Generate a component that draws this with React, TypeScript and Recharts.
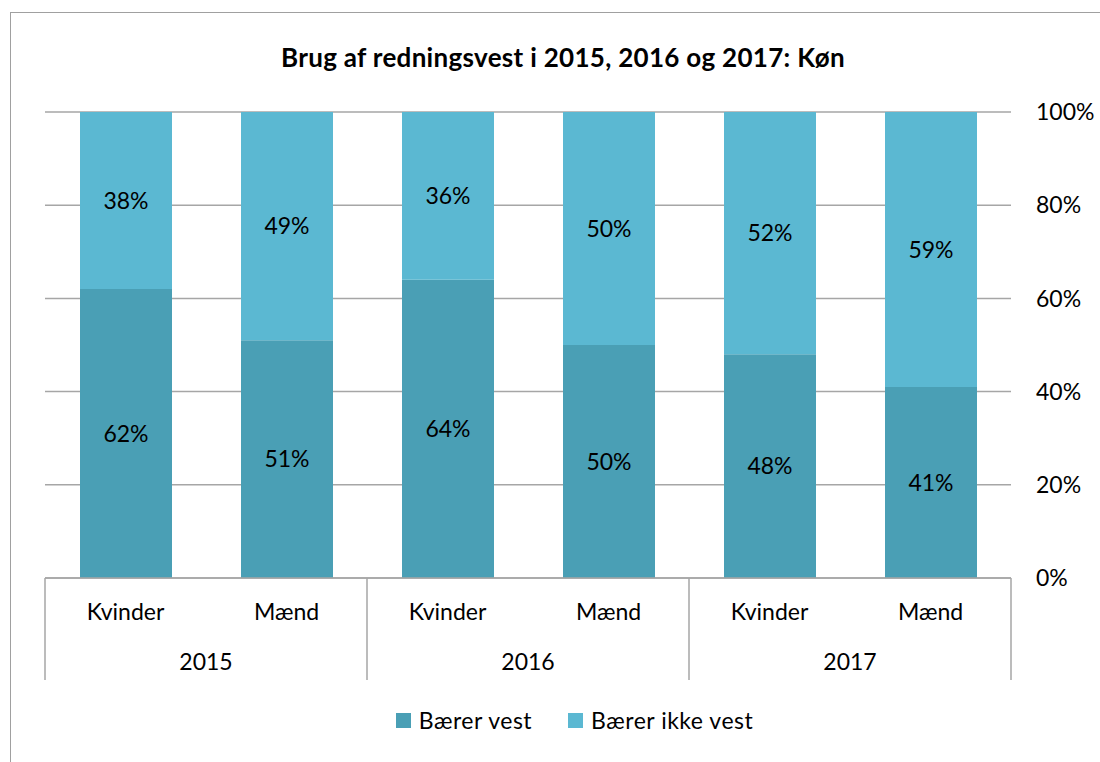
import { BarChart, Bar, XAxis, YAxis, CartesianGrid, Legend, LabelList } from 'recharts';

const genders = ['Kvinder', 'Mænd', 'Kvinder', 'Mænd', 'Kvinder', 'Mænd'];
const years = ['2015', '2015', '2016', '2016', '2017', '2017'];
const wearing = [62, 51, 64, 50, 48, 41];
const notWearing = [38, 49, 36, 50, 52, 59];
const yTicks = [0, 20, 40, 60, 80, 100];

const DARK = '#4A9FB5';
const LIGHT = '#5BB8D2';
const GRID = '#A6A6A6';
const FONT = 'Lato, "Open Sans", sans-serif';
const FS = 23;

const data = genders.map((g, i) => ({
  key: `${years[i]}-${g}`,
  gender: g,
  year: years[i],
  wear: wearing[i],
  noWear: notWearing[i],
}));

function GenderTick(props: any) {
  const { x, y, payload, index } = props;
  const half = payload.offset ?? 0;
  return (
    <g>
      <text x={x} y={y + 42} textAnchor="middle" fontSize={FS} fill="#000" fontFamily={FONT}>
        {payload.value}
      </text>
      {index % 2 === 0 && <line x1={x - half} x2={x - half} y1={y} y2={y + 50} stroke={GRID} strokeWidth={1.5} />}
      {index === data.length - 1 && <line x1={x + half} x2={x + half} y1={y} y2={y + 50} stroke={GRID} strokeWidth={1.5} />}
    </g>
  );
}

function YearTick(props: any) {
  const { x, y, payload, index } = props;
  const half = payload.offset ?? 0;
  return (
    <g>
      {index % 2 === 0 && (
        <text x={x + half} y={y + 42} textAnchor="middle" fontSize={FS} fill="#000" fontFamily={FONT}>
          {payload.value}
        </text>
      )}
      {index % 2 === 0 && <line x1={x - half} x2={x - half} y1={y} y2={y + 52} stroke={GRID} strokeWidth={1.5} />}
      {index === data.length - 1 && <line x1={x + half} x2={x + half} y1={y} y2={y + 52} stroke={GRID} strokeWidth={1.5} />}
    </g>
  );
}

function LegendContent() {
  const items = [
    { name: 'Bærer vest', color: DARK },
    { name: 'Bærer ikke vest', color: LIGHT },
  ];
  return (
    <div style={{ height: 60, paddingTop: 20, boxSizing: 'border-box', display: 'flex', justifyContent: 'center', alignItems: 'center', fontFamily: FONT, fontSize: FS, paddingLeft: 4 }}>
      {items.map(it => (
        <div key={it.name} style={{ display: 'flex', alignItems: 'center', margin: '0 18px', height: 40 }}>
          <span style={{ width: 15, height: 15, background: it.color, marginRight: 8, display: 'inline-block' }} />
          <span style={{ letterSpacing: 0.5 }}>{it.name}</span>
        </div>
      ))}
    </div>
  );
}

export default function App() {
  return (
    <div style={{ position: 'absolute', left: 0, top: 0, width: 1100, height: 762, overflow: 'hidden', background: '#fff' }}>
      <div style={{ position: 'absolute', left: 10, top: 12, width: 1200, height: 900, borderLeft: '1.5px solid #A0A0A0', borderTop: '1.5px solid #A0A0A0' }} />
      <div style={{ position: 'absolute', left: 0, width: 1126, top: 41, textAlign: 'center', fontFamily: FONT, fontWeight: 700, fontSize: 26, color: '#000', letterSpacing: 0.3 }}>
        Brug af redningsvest i 2015, 2016 og 2017: Køn
      </div>
      <div style={{ position: 'absolute', left: 0, top: 0 }}>
        <BarChart width={1100} height={762} data={data} margin={{ top: 112, right: 0, bottom: 22, left: 45 }}>
          <CartesianGrid vertical={false} stroke={GRID} strokeWidth={1.5} />
          <XAxis
            xAxisId={0}
            dataKey="key"
            height={50}
            interval={0}
            tickLine={false}
            tickSize={0}
            tickMargin={0}
            axisLine={{ stroke: GRID, strokeWidth: 1.5 }}
            tick={(p: any) => <GenderTick {...p} payload={{ ...p.payload, value: data[p.index].gender }} />}
          />
          <XAxis
            xAxisId="year"
            dataKey="key"
            height={52}
            interval={0}
            tickLine={false}
            tickSize={0}
            tickMargin={0}
            axisLine={false}
            tick={(p: any) => <YearTick {...p} payload={{ ...p.payload, value: data[p.index].year }} />}
          />
          <YAxis
            orientation="right"
            width={89}
            domain={[0, 100]}
            ticks={yTicks}
            axisLine={false}
            tickLine={false}
            tickSize={0}
            tickMargin={25}
            tickFormatter={(v: number) => `${v}%`}
            tick={{ fontSize: FS, fill: '#000', fontFamily: FONT, textAnchor: 'start' }}
          />
          <Legend verticalAlign="bottom" content={<LegendContent />} />
          <Bar dataKey="wear" stackId="a" fill={DARK} barSize={92} isAnimationActive={false} name="Bærer vest">
            <LabelList dataKey="wear" position="center" formatter={(v: any) => `${v}%`} fill="#000" fontSize={FS} fontFamily={FONT} />
          </Bar>
          <Bar dataKey="noWear" stackId="a" fill={LIGHT} barSize={92} isAnimationActive={false} name="Bærer ikke vest">
            <LabelList dataKey="noWear" position="center" formatter={(v: any) => `${v}%`} fill="#000" fontSize={FS} fontFamily={FONT} />
          </Bar>
        </BarChart>
      </div>
    </div>
  );
}
